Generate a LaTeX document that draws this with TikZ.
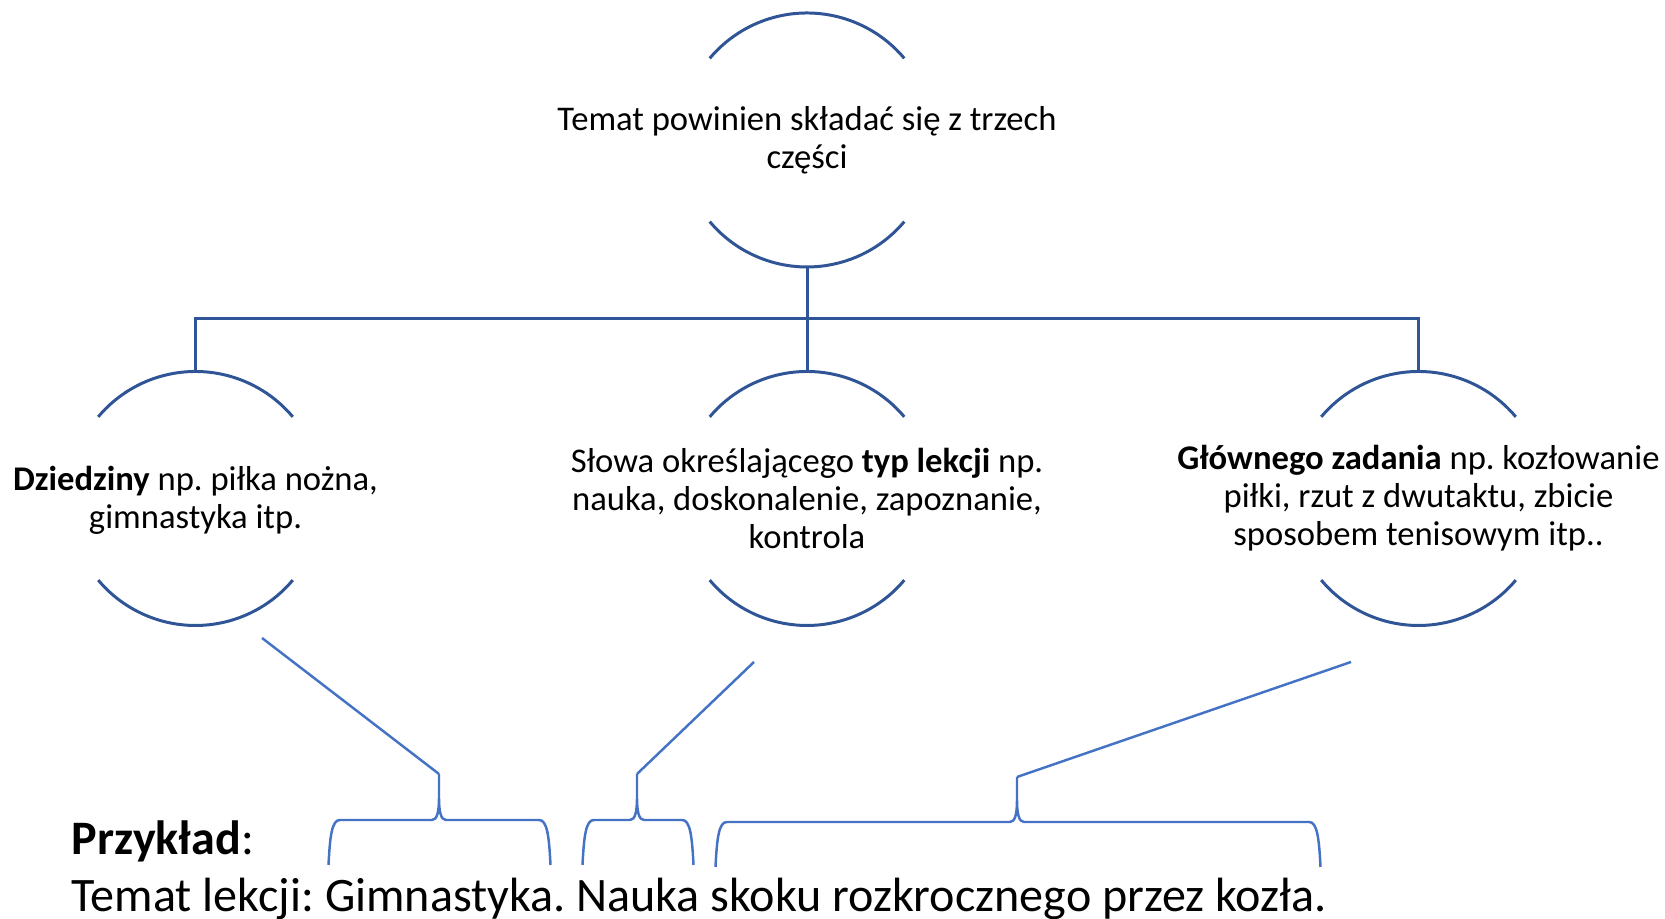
\documentclass[tikz,border=0pt]{standalone}
\usepackage{fontspec}
\setmainfont{Carlito}
\usepackage{xcolor}
\usepackage{tikz}
\usetikzlibrary{positioning,calc}
\frenchspacing

\definecolor{darkblue}{HTML}{2F5597}
\definecolor{lightblue}{HTML}{4472C4}

% brace: left corner x, stem x, right corner x, bar y, stem top y
\newcommand{\bracepath}[5]{%
  (#1-0.065,#4-0.45) .. controls (#1-0.05,#4-0.15) and (#1-0.03,#4) .. (#1+0.05,#4)
  -- (#2-0.07,#4) .. controls (#2-0.02,#4) and (#2,#4+0.08) .. (#2,#4+0.22) -- (#2,#5)
  (#2,#4+0.22) .. controls (#2,#4+0.08) and (#2+0.02,#4) .. (#2+0.07,#4)
  -- (#3-0.05,#4) .. controls (#3+0.03,#4) and (#3+0.05,#4-0.15) .. (#3+0.065,#4-0.45)}

\tikzset{
  ring/.style={circle, minimum size=2.54cm, inner sep=0pt, outer sep=0pt},
  txt/.style={align=center, inner sep=0pt, font=\fontsize{9.85}{10.8}\selectfont},
  arcline/.style={darkblue, line width=0.85pt},
  tree/.style={darkblue, line width=0.85pt},
  bracket/.style={lightblue, line width=0.7pt},
  bottomtxt/.style={anchor=base west, inner sep=0pt, font=\fontsize{13.68}{15.4}\selectfont}
}

\begin{document}
\begin{tikzpicture}
    \useasboundingbox (0,0) rectangle (16.65,9.19);
    \clip (0,0) rectangle (16.65,9.19);

    % rings
    \node[ring] (temat) at (8.07,7.79) {};
    \node[ring] (dz) at (1.955,4.205) {};
    \node[ring] (typ) at (8.07,4.205) {};
    \node[ring] (zad) at (14.185,4.205) {};

    \foreach \n in {temat,dz,typ,zad} {
        \draw[arcline] (\n.40) arc[start angle=40, end angle=140, radius=1.27];
        \draw[arcline] (\n.220) arc[start angle=220, end angle=320, radius=1.27];
    }

    % texts
    \node[txt] (temat-t) at (temat) {Temat powinien składać się z trzech\\części};
    \node[txt] (dz-t) at ([yshift=-0.02cm]dz) {\textbf{Dziedziny} np. piłka nożna,\\gimnastyka itp.};
    \node[txt] (typ-t) at (typ) {Słowa określającego \textbf{typ lekcji} np.\\nauka, doskonalenie, zapoznanie,\\kontrola};
    \node[txt] (zad-t) at (zad) {\textbf{Głównego zadania} np. kozłowanie\\piłki, rzut z dwutaktu, zbicie\\sposobem tenisowym itp..};

    % tree
    \draw[tree] (temat.south) -- (typ.north);
    \draw[tree] (dz.north) -- ++(0,0.525) -| (zad.north);

    % example
    \node[bottomtxt] (przyklad) at (0.71,0.64) {\textbf{Przykład}:};
    \node[bottomtxt] (lekcja) at ([yshift=-0.57cm]przyklad.base west) {Temat lekcji: Gimnastyka. Nauka skoku rozkrocznego przez kozła.};

    % braces
    \coordinate (tip1) at (4.39,1.45);
    \coordinate (tip2) at (6.37,1.45);
    \coordinate (tip3) at (10.17,1.42);
    \coordinate (end1) at (2.62,2.81);
    \coordinate (end2) at (7.54,2.57);
    \coordinate (end3) at (13.51,2.57);

    \draw[bracket] \bracepath{3.35}{4.39}{5.44}{0.99}{1.45};
    \draw[bracket] \bracepath{5.89}{6.37}{6.87}{0.99}{1.45};
    \draw[bracket] \bracepath{7.22}{10.17}{13.14}{0.97}{1.42};

    \draw[bracket] (tip1) -- (end1);
    \draw[bracket] (tip2) -- (end2);
    \draw[bracket] (tip3) -- (end3);
\end{tikzpicture}
\end{document}
